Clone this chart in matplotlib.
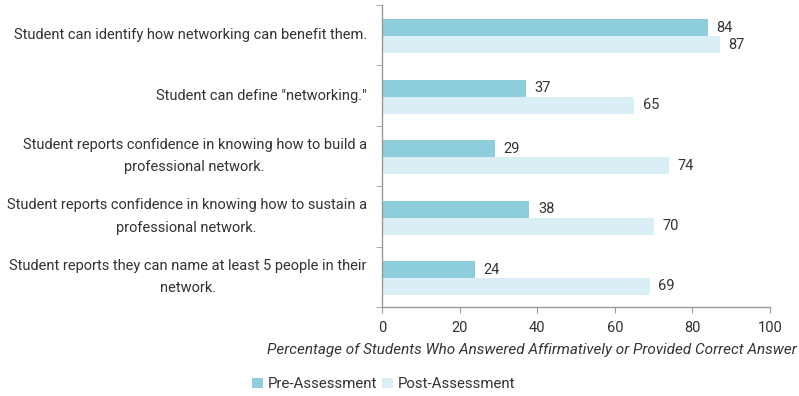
import matplotlib
matplotlib.use("Agg")
import matplotlib.pyplot as plt
import matplotlib.transforms as mtransforms
import numpy as np
from matplotlib.patches import Patch

categories = [
    "Student can identify how networking can benefit them.",
    "Student can define \"networking.\"",
    "Student reports confidence in knowing how to build a\nprofessional network.",
    "Student reports confidence in knowing how to sustain a\nprofessional network.",
    "Student reports they can name at least 5 people in their\nnetwork.",
]
pre = [84, 37, 29, 38, 24]
post = [87, 65, 74, 70, 69]
xticks = [0, 20, 40, 60, 80, 100]
series_names = ["Pre-Assessment", "Post-Assessment"]

pre_color = "#8ecddc"
post_color = "#d9eef5"
text_color = "#333333"
spine_color = "#9a9a9a"

plt.rcParams['font.family'] = ['Roboto', 'DejaVu Sans']

fig = plt.figure(figsize=(7.99, 3.96), dpi=100)
ax = fig.add_axes([382/799, 1-307/396, (770-382)/799, (307-5)/396])

n = len(categories)
y = np.arange(n)
h = 0.28
off = 0.02
ax.barh(y - h/2 + off, pre, height=h, color=pre_color, label=series_names[0])
ax.barh(y + h/2 + off, post, height=h, color=post_color, label=series_names[1])

for yi, v in zip(y, pre):
    ax.text(v + 2.2, yi - h/2 + off, str(v), va='center', ha='left', fontsize=10.5, color=text_color)
for yi, v in zip(y, post):
    ax.text(v + 2.2, yi + h/2 + off, str(v), va='center', ha='left', fontsize=10.5, color=text_color)

ax.set_xlim(0, 100)
ax.set_ylim(n - 0.5, -0.5)
ax.set_xticks(xticks)
ax.set_xticklabels([str(t) for t in xticks], fontsize=10.5, color=text_color)
ax.set_yticks(y)
labels = ax.set_yticklabels(categories, fontsize=10.5, color=text_color, multialignment='center',
                            linespacing=1.75, va='center')
shift = mtransforms.ScaledTranslation(0, 2/72, fig.dpi_scale_trans)
for lab, cat in zip(labels, categories):
    if "\n" in cat:
        lab.set_transform(lab.get_transform() + shift)
ax.set_yticks(np.arange(-0.5, n, 1), minor=True)
ax.tick_params(axis='y', which='major', length=0, pad=11)
ax.tick_params(axis='y', which='minor', length=4, color=spine_color)
ax.tick_params(axis='x', length=4, color=spine_color, pad=6)

for s in ['top', 'right']:
    ax.spines[s].set_visible(False)
for s in ['left', 'bottom']:
    ax.spines[s].set_color(spine_color)
    ax.spines[s].set_linewidth(1.0)

fig.text(797/799, 1-350/396,
         "Percentage of Students Who Answered Affirmatively or Provided Correct Answer",
         fontsize=11, style='italic', color=text_color, ha='right', va='center')

handles = [Patch(facecolor=pre_color), Patch(facecolor=post_color)]
fig.legend(handles, series_names, loc='center left', bbox_to_anchor=(239/799, 1-384/396),
           frameon=False, ncol=2, fontsize=10.8, handlelength=0.7, handleheight=0.7,
           handletextpad=0.35, columnspacing=0.3, labelcolor=text_color)

fig.savefig("out.png", dpi=100)
